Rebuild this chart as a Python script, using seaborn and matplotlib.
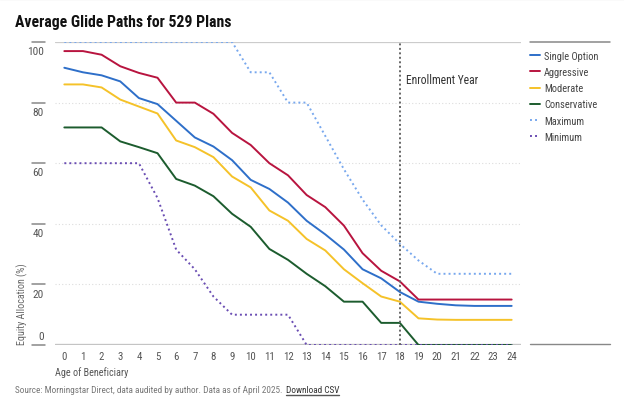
import numpy as np
import pandas as pd
import seaborn as sns
import matplotlib.pyplot as plt
from matplotlib import font_manager

ages = list(range(25))

single_option = [91.5, 90, 89, 87, 81.5, 79.5, 74, 68.5, 65.5, 61, 54.5, 51.5, 47, 41,
                 36.5, 31.5, 25, 22, 17.5, 14.3, 13.6, 13.1, 12.9, 12.9, 12.9]
aggressive = [97, 97, 95.8, 92, 89.8, 88.2, 80, 80, 76.3, 70, 66, 60, 56, 49.5,
              45.5, 39.4, 30.3, 24.5, 21, 15, 15, 15, 15, 15, 15]
moderate = [86, 86, 85, 81, 78.7, 76.4, 67.5, 65.3, 62, 55.6, 52, 44.4, 41, 35,
            31.2, 25, 20.4, 16, 14.3, 8.8, 8.4, 8.3, 8.3, 8.3, 8.3]
conservative = [71.8, 71.8, 71.8, 67.2, 65.3, 63.3, 54.8, 52.6, 49.1, 43.3, 39, 31.7, 28.1, 23.5,
                19.4, 14.3, 14.3, 7.3, 7.3, 0, 0, 0, 0, 0, 0]
maximum = [100, 100, 100, 100, 100, 100, 100, 100, 100, 100, 90, 90, 80, 80,
           69, 58, 48, 39.5, 33.4, 27.9, 23.5, 23.5, 23.5, 23.5, 23.5]
minimum = [60, 60, 60, 60, 60, 48.5, 31.5, 25, 16, 10, 10, 10, 10, 0,
           0, 0, 0, 0, 0, 0, 0, 0, 0, 0, 0]

series = {
    "Single Option": single_option,
    "Aggressive": aggressive,
    "Moderate": moderate,
    "Conservative": conservative,
    "Maximum": maximum,
    "Minimum": minimum,
}
colors = {
    "Single Option": "#2e6fc9",
    "Aggressive": "#b8143f",
    "Moderate": "#f5c229",
    "Conservative": "#1c5c2e",
    "Maximum": "#78a8ee",
    "Minimum": "#6a4db3",
}
dotted = {"Maximum", "Minimum"}

y_ticks = [0, 20, 40, 60, 80, 100]

sns.set_theme(style="white")
names = {f.name for f in font_manager.fontManager.ttflist}
base_font = "Roboto"
for cand in ["Roboto Condensed", "Archivo Narrow", "Barlow Semi Condensed"]:
    if cand in names:
        base_font = cand
        break
plt.rcParams["font.family"] = [base_font, "DejaVu Sans"]

fig = plt.figure(figsize=(6.24, 4.10), dpi=100)
ax = fig.add_axes([55 / 624, 1 - 346 / 410, 466 / 624, 303 / 410])

for name, vals in series.items():
    ls = (0, (1, 1.6)) if name in dotted else "-"
    sns.lineplot(x=ages, y=vals, ax=ax, color=colors[name], linestyle=ls,
                 linewidth=1.4, label=name)

ax.set_xlim(-0.5, 24.5)
ax.set_ylim(0, 100)
for s in ax.spines.values():
    s.set_visible(False)

# gridlines
for t in [20, 40, 60, 80]:
    ax.axhline(t, color="#dddddd", lw=0.8, ls=(0, (1, 2)), zorder=0)
ax.axhline(100, color="#cccccc", lw=0.9, zorder=0)
ax.axhline(0, color="#c4c4c4", lw=2.4, zorder=0.5)

# y ticks drawn as short bars, labels under them (0 sits above)
ax.set_yticks([])
trans = ax.get_yaxis_transform()
for t in y_ticks:
    ax.plot([-0.049, -0.021], [t, t], transform=trans, color="#888888", lw=1.1, clip_on=False)
    if t == 0:
        ax.text(-0.024, 1.3, "0", transform=trans, ha="right", va="bottom",
                fontsize=8.2, color="#555555")
    else:
        ax.text(-0.024, t - 1.4, str(t), transform=trans, ha="right", va="top",
                fontsize=8.2, color="#555555")

ax.set_xticks(ages)
ax.set_xticklabels([str(a) for a in ages], fontsize=7.8, color="#555555")
ax.tick_params(axis="x", length=0, pad=4)
ax.set_xlabel("")
ax.text(0, -0.071, "Age of Beneficiary", transform=ax.transAxes, ha="left", va="top",
        fontsize=7.3, color="#555555")
ax.text(-0.07, 0.003, "Equity Allocation (%)", transform=ax.transAxes, rotation=90,
        ha="center", va="bottom", fontsize=7.2, color="#666666")

# enrollment marker
ax.axvline(18, color="#666666", lw=1.4, ls=(0, (1, 1.3)), zorder=3)
ax.text(18.33, 87.5, "Enrollment Year", fontsize=8.3, color="#333333", ha="left", va="center")

# legend
leg = ax.legend(loc="upper left", bbox_to_anchor=(1.01, 0.985), frameon=False,
                fontsize=7.5, handlelength=1.0, handletextpad=0.38, labelspacing=0.6,
                borderaxespad=0)
for txt in leg.get_texts():
    txt.set_color("#444444")
ax.plot([1.019, 1.19], [1, 1], transform=ax.transAxes, color="#888888", lw=1.1, clip_on=False)
ax.plot([1.019, 1.19], [0.003, 0.003], transform=ax.transAxes, color="#888888", lw=1.0, clip_on=False)

fig.text(15 / 624, 1 - 22 / 410, "Average Glide Paths for 529 Plans", fontsize=11.3,
         fontweight="bold", color="#111111", ha="left", va="center")
src = fig.text(15 / 624, 1 - 391 / 410,
               "Source: Morningstar Direct, data audited by author. Data as of April 2025.",
               fontsize=6.7, color="#777777", ha="left", va="center")
fig.add_artist(plt.Line2D([0.0, 1.0], [0.999, 0.999], color="#e6e6e6", lw=1))

fig.canvas.draw()
inv = fig.transFigure.inverted()
sb = src.get_window_extent().transformed(inv)
dl = fig.text(sb.x1 + 3 / 624, 1 - 391 / 410, "Download CSV", fontsize=6.7, color="#333333",
              ha="left", va="center")
fig.canvas.draw()
bb = dl.get_window_extent().transformed(inv)
fig.add_artist(plt.Line2D([bb.x0, bb.x1], [bb.y0 - 0.002, bb.y0 - 0.002], color="#555555", lw=1.0))

fig.savefig("out.png", dpi=100)
